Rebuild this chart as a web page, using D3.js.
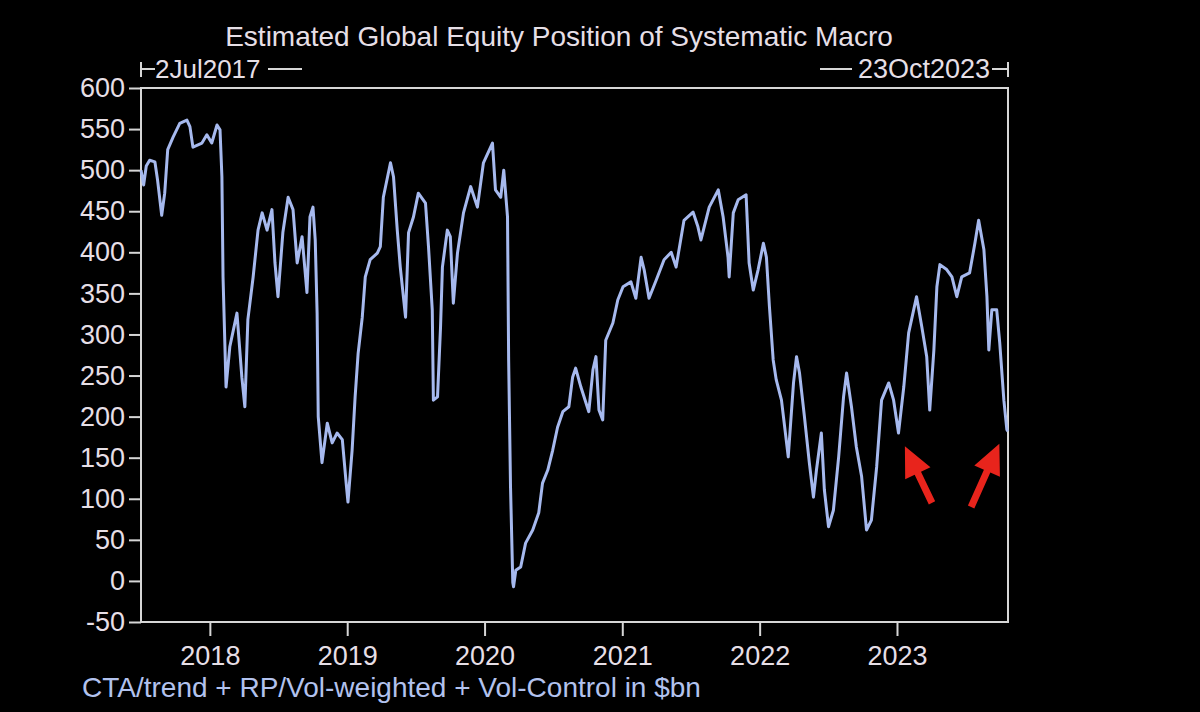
<!DOCTYPE html>
<html>
<head>
<meta charset="utf-8">
<script src="https://cdn.jsdelivr.net/npm/d3@7"></script>
<style>
  html, body { margin: 0; padding: 0; background: #000; }
  svg { display: block; }
  text { font-family: "Liberation Sans", Arial, sans-serif; }
</style>
</head>
<body>
<div id="chart"></div>
<script>
// weekly-ish readings of the position, $bn
var dates = [
  "2017-07-02","2017-07-09","2017-07-16","2017-07-25","2017-08-08","2017-08-15","2017-08-26","2017-09-03",
  "2017-09-11","2017-09-25","2017-10-13","2017-11-01","2017-11-09","2017-11-17","2017-12-11","2017-12-24",
  "2018-01-06","2018-01-20","2018-01-28","2018-02-02","2018-02-05","2018-02-13","2018-02-23","2018-03-14",
  "2018-03-27","2018-04-04","2018-04-12","2018-04-26","2018-05-09","2018-05-20","2018-06-02","2018-06-15",
  "2018-06-23","2018-07-01","2018-07-14","2018-07-28","2018-08-10","2018-08-21","2018-09-03","2018-09-16",
  "2018-09-24","2018-10-02","2018-10-08","2018-10-13","2018-10-16","2018-10-26","2018-11-09","2018-11-22",
  "2018-12-05","2018-12-19","2018-12-29","2019-01-03","2019-01-14","2019-01-22","2019-01-30","2019-02-10",
  "2019-02-18","2019-03-03","2019-03-22","2019-03-30","2019-04-07","2019-04-26","2019-05-04","2019-05-14",
  "2019-05-22","2019-06-05","2019-06-13","2019-06-26","2019-07-09","2019-07-28","2019-08-05","2019-08-15",
  "2019-08-18","2019-08-29","2019-09-06","2019-09-11","2019-09-24","2019-10-02","2019-10-10","2019-10-21",
  "2019-11-06","2019-11-25","2019-12-13","2019-12-29","2020-01-22","2020-01-30","2020-02-13","2020-02-21",
  "2020-03-02","2020-03-05","2020-03-10","2020-03-16","2020-03-18","2020-03-24","2020-04-06","2020-04-19",
  "2020-05-08","2020-05-24","2020-06-03","2020-06-17","2020-06-30","2020-07-13","2020-07-27","2020-08-12",
  "2020-08-22","2020-08-30","2020-09-13","2020-10-04","2020-10-15","2020-10-23","2020-10-31","2020-11-10",
  "2020-11-18","2020-12-07","2020-12-20","2021-01-03","2021-01-24","2021-02-06","2021-02-20","2021-02-28",
  "2021-03-13","2021-04-01","2021-04-22","2021-05-11","2021-05-24","2021-06-14","2021-07-08","2021-07-21",
  "2021-07-29","2021-08-20","2021-09-13","2021-09-26","2021-10-09","2021-10-12","2021-10-23","2021-11-05",
  "2021-11-26","2021-12-04","2021-12-15","2021-12-28","2022-01-11","2022-01-19","2022-01-27","2022-02-06",
  "2022-02-14","2022-02-28","2022-03-18","2022-04-01","2022-04-09","2022-04-17","2022-04-30","2022-05-13",
  "2022-05-24","2022-06-01","2022-06-14","2022-06-22","2022-07-03","2022-07-16","2022-07-30","2022-08-12",
  "2022-08-20","2022-09-02","2022-09-15","2022-09-29","2022-10-12","2022-10-25","2022-11-08","2022-11-21",
  "2022-12-10","2022-12-23","2023-01-05","2023-01-19","2023-02-01","2023-02-22","2023-03-08","2023-03-21",
  "2023-03-29","2023-04-09","2023-04-17","2023-04-25","2023-05-13","2023-05-27","2023-06-09","2023-06-22",
  "2023-07-13","2023-07-27","2023-08-06","2023-08-20","2023-08-28","2023-09-02","2023-09-10","2023-09-23",
  "2023-10-01","2023-10-12","2023-10-20","2023-10-23"
];
var positions = [
  500, 482, 505, 512, 510, 488, 445, 472,
  525, 540, 557, 561, 553, 528, 533, 543,
  533, 555, 549, 492, 370, 236, 285, 326,
  248, 212, 318, 370, 427, 448, 427, 452,
  387, 346, 424, 467, 452, 387, 419, 351,
  443, 455, 415, 326, 200, 144, 192, 168,
  180, 172, 120, 96, 159, 224, 277, 321,
  370, 391, 399, 407, 467, 509, 492, 427,
  382, 321, 424, 443, 472, 460, 407, 330,
  220, 224, 309, 382, 427, 419, 338, 399,
  448, 480, 455, 509, 533, 476, 467, 500,
  443, 269, 114, -2, -7, 13, 17, 46,
  62, 83, 119, 135, 159, 187, 206, 212,
  248, 259, 236, 206, 257, 273, 208, 196,
  293, 314, 342, 358, 364, 344, 394, 379,
  344, 366, 391, 400, 382, 439, 449, 431,
  415, 455, 476, 443, 394, 370, 448, 464,
  470, 387, 354, 379, 411, 394, 334, 269,
  245, 220, 151, 241, 273, 253, 200, 144,
  102, 135, 180, 111, 66, 86, 151, 224,
  253, 212, 163, 127, 62, 74, 139, 220,
  241, 220, 180, 236, 302, 346, 309, 273,
  208, 281, 358, 385, 379, 370, 346, 370,
  375, 411, 439, 403, 346, 281, 330, 330,
  290, 220, 184, 182
];

var yTicks = [-50, 0, 50, 100, 150, 200, 250, 300, 350, 400, 450, 500, 550, 600];
var xYears = [2018, 2019, 2020, 2021, 2022, 2023];
var startLabel = "2Jul2017";
var endLabel = "23Oct2023";
var title = "Estimated Global Equity Position of Systematic Macro";
var footnote = "CTA/trend + RP/Vol-weighted + Vol-Control in $bn";

// red arrows pointing at the two recent lows: [tail date, tail value, tip date, tip value]
var arrows = [
  ["2023-04-04", 95, "2023-01-22", 164],
  ["2023-07-17", 90, "2023-09-30", 167]
];

var parseDate = d3.timeParse("%Y-%m-%d");
var series = dates.map(function (d, i) {
  return { date: parseDate(d), value: positions[i] };
});

var svgWidth = 1200;
var svgHeight = 712;
var plot = { left: 141, right: 1008, top: 88, bottom: 622 };

var svg = d3.select("#chart")
  .append("svg")
  .attr("width", svgWidth)
  .attr("height", svgHeight);

svg.append("rect")
  .attr("width", svgWidth)
  .attr("height", svgHeight)
  .attr("fill", "#000");

var xScale = d3.scaleTime()
  .domain([parseDate(dates[0]), parseDate(dates[dates.length - 1])])
  .range([plot.left, plot.right]);

var yScale = d3.scaleLinear()
  .domain([-50, 600])
  .range([plot.bottom, plot.top]);

var textColor = "#e6dfe6";
var frameColor = "#d6d6d6";

// title
svg.append("text")
  .attr("x", 559)
  .attr("y", 46)
  .attr("text-anchor", "middle")
  .attr("font-size", "28px")
  .attr("fill", textColor)
  .text(title);

// y axis
var yAxis = d3.axisLeft(yScale)
  .tickValues(yTicks)
  .tickSize(12)
  .tickPadding(4)
  .tickFormat(function (d) { return String(d); });

var yG = svg.append("g")
  .attr("transform", `translate(${plot.left}, 0)`)
  .call(yAxis);

// x axis
var xAxis = d3.axisBottom(xScale)
  .tickValues(xYears.map(function (y) { return new Date(y, 0, 1); }))
  .tickFormat(d3.timeFormat("%Y"))
  .tickSize(14)
  .tickPadding(10);

var xG = svg.append("g")
  .attr("transform", `translate(0, ${plot.bottom})`)
  .call(xAxis);

[yG, xG].forEach(function (g) {
  g.select(".domain").remove();
  g.selectAll(".tick line").attr("stroke", frameColor).attr("stroke-width", 2);
  g.selectAll(".tick text")
    .attr("fill", textColor)
    .attr("font-family", "Liberation Sans, Arial, sans-serif");
});
yG.selectAll(".tick text").attr("font-size", "27px");
xG.selectAll(".tick text").attr("font-size", "27px");

// frame
svg.append("rect")
  .attr("x", plot.left)
  .attr("y", plot.top)
  .attr("width", plot.right - plot.left)
  .attr("height", plot.bottom - plot.top)
  .attr("fill", "none")
  .attr("stroke", frameColor)
  .attr("stroke-width", 2);

// date range markers above the frame
var markY = 69;
var rangeG = svg.append("g")
  .attr("stroke", frameColor)
  .attr("stroke-width", 2);

rangeG.append("line").attr("x1", plot.left).attr("x2", plot.left).attr("y1", markY - 7).attr("y2", markY + 8);
rangeG.append("line").attr("x1", plot.left).attr("x2", 155).attr("y1", markY).attr("y2", markY);
rangeG.append("line").attr("x1", 268).attr("x2", 302).attr("y1", markY).attr("y2", markY);
rangeG.append("line").attr("x1", 820).attr("x2", 852).attr("y1", markY).attr("y2", markY);
rangeG.append("line").attr("x1", 992).attr("x2", plot.right).attr("y1", markY).attr("y2", markY);
rangeG.append("line").attr("x1", plot.right).attr("x2", plot.right).attr("y1", markY - 7).attr("y2", markY + 8);

svg.append("text")
  .attr("x", 155)
  .attr("y", 78)
  .attr("font-size", "26px")
  .attr("fill", textColor)
  .text(startLabel);

svg.append("text")
  .attr("x", 990)
  .attr("y", 78)
  .attr("text-anchor", "end")
  .attr("font-size", "27px")
  .attr("fill", textColor)
  .text(endLabel);

// the series
var line = d3.line()
  .x(function (d) { return xScale(d.date); })
  .y(function (d) { return yScale(d.value); });

svg.append("path")
  .datum(series)
  .attr("fill", "none")
  .attr("stroke", "#a6b9ee")
  .attr("stroke-width", 3)
  .attr("stroke-linejoin", "round")
  .attr("d", line);

// arrows
arrows.forEach(function (a) {
  var x0 = xScale(parseDate(a[0])), y0 = yScale(a[1]);
  var x1 = xScale(parseDate(a[2])), y1 = yScale(a[3]);
  var dx = x1 - x0, dy = y1 - y0;
  var len = Math.sqrt(dx * dx + dy * dy);
  var ux = dx / len, uy = dy / len;
  var px = -uy, py = ux;
  var headLen = 30, headW = 14, shaftW = 3.5;
  var bx = x1 - ux * headLen, by = y1 - uy * headLen;
  var pts = [
    [x0 + px * shaftW, y0 + py * shaftW],
    [bx + px * shaftW, by + py * shaftW],
    [bx + px * headW, by + py * headW],
    [x1, y1],
    [bx - px * headW, by - py * headW],
    [bx - px * shaftW, by - py * shaftW],
    [x0 - px * shaftW, y0 - py * shaftW]
  ];
  svg.append("polygon")
    .attr("points", pts.map(function (p) { return p.join(","); }).join(" "))
    .attr("fill", "#e8241c");
});

// footnote
svg.append("text")
  .attr("x", 82)
  .attr("y", 697)
  .attr("font-size", "28px")
  .attr("fill", "#b2c2ee")
  .text(footnote);
</script>
</body>
</html>
